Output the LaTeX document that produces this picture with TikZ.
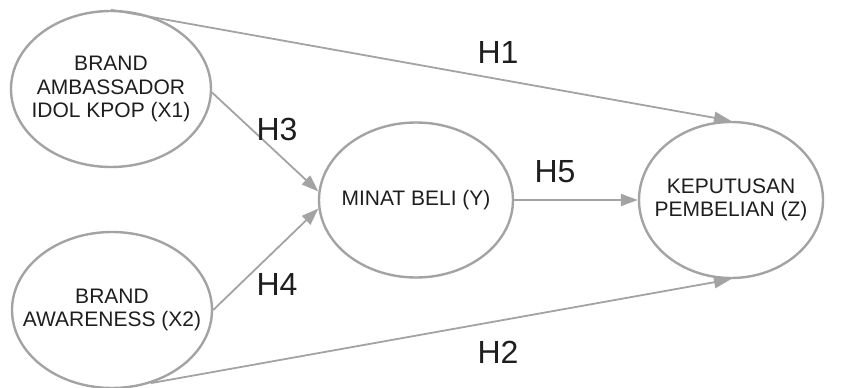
\documentclass[tikz,border=0pt]{standalone}
\usepackage{fontspec}
\setmainfont{Liberation Sans}
\usetikzlibrary{arrows.meta,shapes.geometric}
\definecolor{linegray}{HTML}{A3A3A3}
\definecolor{txt}{HTML}{1E1E1E}
\tikzset{
  construct/.style={ellipse, draw=linegray, line width=2.4pt, inner sep=0pt},
  ctext/.style={text=txt, align=center, inner sep=0pt,
    font=\fontsize{21}{23.5}\selectfont},
  path/.style={draw=linegray, line width=1.8pt,
    -{Triangle[length=17pt,width=12pt]}},
  hyp/.style={text=txt, font=\fontsize{32}{36}\selectfont, inner sep=0pt}
}
\begin{document}
\begin{tikzpicture}[x=1pt,y=-1pt]
  \useasboundingbox (0,0) rectangle (841,388);
  % latent constructs (outline fixed in size, caption centred inside)
  \node[construct, minimum width=200pt, minimum height=156pt,
    label={[ctext]center:BRAND\\AMBASSADOR\\IDOL KPOP (X1)}] (x1) at (111,89) {};
  \node[construct, minimum width=200pt, minimum height=156pt,
    label={[ctext]center:BRAND\\AWARENESS (X2)}] (x2) at (112,310) {};
  \node[construct, minimum width=194pt, minimum height=155pt,
    label={[ctext]center:MINAT BELI (Y)}] (y) at (416,200) {};
  \node[construct, minimum width=184pt, minimum height=156pt,
    label={[ctext]center:KEPUTUSAN\\PEMBELIAN (Z)}] (z) at (731,200) {};
  % hypothesised paths
  \draw[path] (x1.north) -- (z.north);
  \draw[path] (x2.-62) -- (z.south);
  \draw[path] (x1.-2) -- (y.175);
  \draw[path] (x2.east) -- (y.185);
  \draw[path] (y.east) -- (z.west);
  % path labels
  \node[hyp] (h1) at (498,52) {H1};
  \node[hyp] (h2) at (498,352) {H2};
  \node[hyp] (h3) at (277,129) {H3};
  \node[hyp] (h4) at (277,284) {H4};
  \node[hyp] (h5) at (555,172) {H5};
\end{tikzpicture}
\end{document}
